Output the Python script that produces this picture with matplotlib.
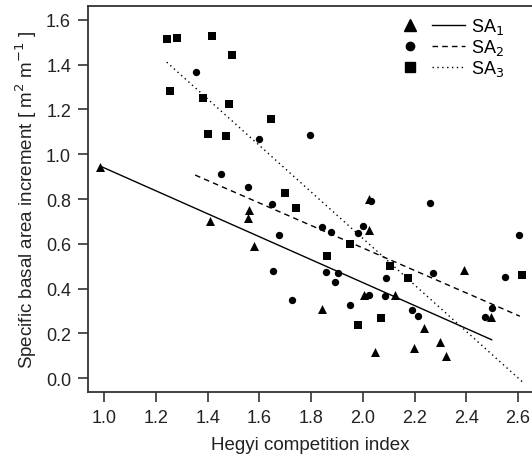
import matplotlib
matplotlib.use('Agg')
import matplotlib.pyplot as plt
from matplotlib.lines import Line2D
from matplotlib.legend_handler import HandlerTuple

plt.rcParams['font.family'] = ['Liberation Sans', 'DejaVu Sans']

# SA1 (triangles)
sa1_x = [0.985, 1.41, 1.562, 1.556, 1.580, 1.843, 2.006, 2.022, 2.024, 2.126, 2.048,
         2.197, 2.238, 2.300, 2.323, 2.390, 2.496]
sa1_y = [0.942, 0.703, 0.751, 0.716, 0.591, 0.309, 0.373, 0.663, 0.800, 0.372, 0.116,
         0.134, 0.223, 0.163, 0.101, 0.485, 0.272]
# SA2 (circles)
sa2_x = [1.355, 1.600, 1.451, 1.555, 1.650, 1.797, 2.261, 1.676, 1.651, 1.726, 2.030,
         1.843, 1.876, 2.000, 1.981, 1.857, 1.903, 1.894, 2.024, 2.088, 2.086, 1.952,
         2.271, 2.190, 2.212, 2.471, 2.501, 2.551, 2.605]
sa2_y = [1.369, 1.068, 0.913, 0.854, 0.779, 1.086, 0.783, 0.641, 0.480, 0.351, 0.790,
         0.675, 0.653, 0.681, 0.647, 0.473, 0.469, 0.428, 0.372, 0.446, 0.369, 0.329,
         0.470, 0.305, 0.277, 0.274, 0.312, 0.454, 0.641]
# SA3 (squares)
sa3_x = [1.242, 1.281, 1.417, 1.494, 1.255, 1.382, 1.484, 1.645, 1.402, 1.471, 1.700,
         1.742, 1.952, 1.862, 2.105, 2.175, 2.070, 1.983, 2.617]
sa3_y = [1.515, 1.519, 1.529, 1.445, 1.284, 1.253, 1.226, 1.159, 1.092, 1.080, 0.829,
         0.759, 0.601, 0.547, 0.503, 0.449, 0.268, 0.239, 0.461]

# fitted regression lines (end points)
fit1_x = [0.987, 2.498]
fit1_y = [0.946, 0.172]
fit2_x = [1.352, 2.607]
fit2_y = [0.907, 0.277]
fit3_x = [1.242, 2.616]
fit3_y = [1.411, -0.015]

labels = ['SA$_1$', 'SA$_2$', 'SA$_3$']

fig = plt.figure(figsize=(5.32, 4.6), dpi=100)
ax = fig.add_axes([0.165, 0.145, 0.838, 0.84])

ax.scatter(sa1_x, sa1_y, marker='^', s=42, color='black', linewidths=0, zorder=3)
ax.scatter(sa2_x, sa2_y, marker='o', s=28, color='black', linewidths=0, zorder=3)
ax.scatter(sa3_x, sa3_y, marker='s', s=30, color='black', linewidths=0, zorder=3)
ax.plot(fit1_x, fit1_y, '-', color='black', lw=1.0)
ax.plot(fit2_x, fit2_y, '--', color='black', lw=1.0, dashes=(4, 3))
ax.plot(fit3_x, fit3_y, ':', color='black', lw=1.0, dashes=(1, 2.5))

ax.set_xlim(0.937, 2.66)
ax.set_ylim(-0.0625, 1.662)
ax.set_xticks([1.0, 1.2, 1.4, 1.6, 1.8, 2.0, 2.2, 2.4, 2.6])
ax.set_yticks([0.0, 0.2, 0.4, 0.6, 0.8, 1.0, 1.2, 1.4, 1.6])
ax.xaxis.set_major_formatter(plt.FormatStrFormatter('%.1f'))
ax.yaxis.set_major_formatter(plt.FormatStrFormatter('%.1f'))
ax.tick_params(direction='out', length=7, width=1.2, labelsize=13, pad=5,
               color='#333333', labelcolor='#222222')
for side in ['left', 'bottom', 'top']:
    ax.spines[side].set_linewidth(1.3)
    ax.spines[side].set_color('#333333')
ax.spines['right'].set_visible(False)

ax.set_xlabel('Hegyi competition index', fontsize=13.5, color='#222222', labelpad=7)
ax.set_ylabel('Specific basal area increment [ m$^2$ m$^{-1}$ ]', fontsize=13.5,
              color='#222222', labelpad=5)

h1 = (Line2D([], [], marker='^', ls='', color='black', ms=8),
      Line2D([], [], ls='-', color='black', lw=1.0))
h2 = (Line2D([], [], marker='o', ls='', color='black', ms=6),
      Line2D([], [], ls='--', color='black', lw=1.0, dashes=(4, 3)))
h3 = (Line2D([], [], marker='s', ls='', color='black', ms=6.5),
      Line2D([], [], ls=':', color='black', lw=1.0, dashes=(1, 2.5)))
ax.legend([h1, h2, h3], labels, handler_map={tuple: HandlerTuple(ndivide=2, pad=0.3)},
          loc='upper right', bbox_to_anchor=(0.97, 1.015), frameon=False,
          fontsize=13, handlelength=4.0, handletextpad=0.3, labelspacing=0.05)

plt.savefig('out.png', dpi=100)
